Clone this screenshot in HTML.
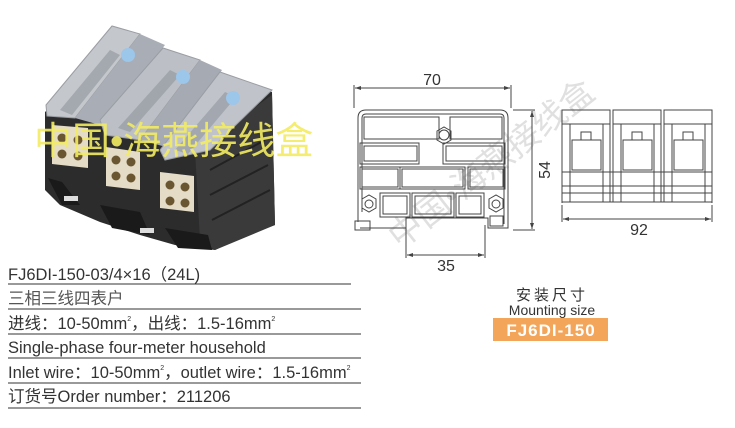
<!DOCTYPE html>
<html><head><meta charset="utf-8"><style>
html,body{margin:0;padding:0;background:#fff;}
svg{display:block}
text{font-family:"Liberation Sans","Noto Sans CJK SC",sans-serif;}
</style></head><body>
<svg width="735" height="428" viewBox="0 0 735 428" xmlns="http://www.w3.org/2000/svg">
<!-- product photo -->
<g>
 <!-- black body -->
 <polygon points="45,112 120,45 272,92 275,225 240,238 215,250 175,245 140,235 100,222 60,205 45,190" fill="#2c2c2c"/>
 <!-- right side face -->
 <polygon points="195,150 272,95 275,225 215,250 200,240" fill="#3a3a3a"/>
 <g stroke="#222" stroke-width="2" fill="none">
  <path d="M210,170 L265,140 M210,195 L268,165 M212,220 L270,190"/>
 </g>
 <!-- terminal faces -->
 <polygon points="52,125 88,128 88,168 52,164" fill="#e4dcc6"/>
 <polygon points="106,147 140,152 140,190 106,186" fill="#e4dcc6"/>
 <polygon points="160,172 194,176 194,212 160,208" fill="#e4dcc6"/>
 <g fill="#6a5630">
  <circle cx="62" cy="138" r="4.5"/><circle cx="78" cy="140" r="4.5"/><circle cx="62" cy="154" r="4.5"/><circle cx="78" cy="156" r="4.5"/>
  <circle cx="116" cy="160" r="4.5"/><circle cx="131" cy="162" r="4.5"/><circle cx="116" cy="176" r="4.5"/><circle cx="131" cy="178" r="4.5"/>
  <circle cx="170" cy="185" r="4.5"/><circle cx="185" cy="187" r="4.5"/><circle cx="170" cy="201" r="4.5"/><circle cx="185" cy="203" r="4.5"/>
 </g>
 <!-- clear covers -->
 <polygon points="46,105 112,26 140,34 75,118 47,116" fill="#c4c7cc" stroke="#9a9da3" stroke-width="1"/>
 <polygon points="75,118 140,34 165,45 100,125" fill="#a9aeb6"/>
 <polygon points="100,120 163,48 200,60 140,140 105,135" fill="#bcc0c6" stroke="#9a9da3" stroke-width="1"/>
 <polygon points="140,140 200,60 222,70 170,148" fill="#a5aab3"/>
 <polygon points="160,150 220,72 272,90 210,150 165,160" fill="#c0c4ca" stroke="#9a9da3" stroke-width="1"/>
 <polygon points="60,110 110,50 120,55 72,115" fill="#8f949c" opacity="0.6"/>
 <polygon points="118,128 170,70 180,75 130,132" fill="#8f949c" opacity="0.6"/>
 <polygon points="175,150 225,92 236,97 188,154" fill="#8f949c" opacity="0.6"/>
 <circle cx="128" cy="55" r="7" fill="#9cc6ea"/>
 <circle cx="183" cy="77" r="7" fill="#9cc6ea"/>
 <circle cx="233" cy="98" r="7" fill="#9cc6ea"/>
 <!-- bottom feet -->
 <polygon points="48,178 62,182 80,205 62,205" fill="#1a1a1a"/>
 <rect x="64" y="196" width="14" height="5" fill="#ddd"/>
 <polygon points="100,205 140,212 150,235 112,228" fill="#1a1a1a"/>
 <polygon points="165,228 208,235 212,250 178,248" fill="#1a1a1a"/>
 <rect x="140" y="228" width="14" height="5" fill="#ddd"/>
</g>
<!-- yellow watermark -->
<text x="34" y="154" font-size="38" fill="#f3ec62" opacity="0.9" font-family="Liberation Serif,'Noto Serif CJK SC',serif">中国•海燕接线盒</text>
<!-- diagonal grey watermark -->
<text x="400" y="250" font-size="34" fill="#d4d4d4" transform="rotate(-38 400 250)" font-family="Liberation Serif,'Noto Serif CJK SC',serif" opacity="0.7">中国•海燕接线盒</text>

<!-- spec text -->
<g font-size="16.5" fill="#333">
 <text x="8" y="280">FJ6DI-150-03/4×16（24L)</text>
 <text x="8" y="304" fill="#555">三相三线四表户</text>
 <text x="8" y="329">进线：10-50mm<tspan font-size="7" dy="-8">2</tspan><tspan dy="8">，出线：1.5-16mm</tspan><tspan font-size="7" dy="-8">2</tspan></text>
 <text x="8" y="353">Single-phase four-meter household</text>
 <text x="8" y="378">Inlet wire：10-50mm<tspan font-size="7" dy="-8">2</tspan><tspan dy="8">，outlet wire：1.5-16mm</tspan><tspan font-size="7" dy="-8">2</tspan></text>
 <text x="8" y="402">订货号Order number：211206</text>
</g>
<g stroke="#333" stroke-width="1">
 <line x1="8" y1="284" x2="351" y2="284"/>
 <line x1="8" y1="309" x2="361" y2="309"/>
 <line x1="8" y1="334" x2="361" y2="334"/>
 <line x1="8" y1="358" x2="361" y2="358"/>
 <line x1="8" y1="383" x2="361" y2="383"/>
 <line x1="8" y1="408" x2="361" y2="408"/>
</g>

<!-- left drawing -->
<g fill="none" stroke="#444" stroke-width="1">
 <line x1="354" y1="85" x2="354" y2="108"/><line x1="511" y1="85" x2="511" y2="108"/>
 <line x1="355" y1="88" x2="510" y2="88"/>
 <path d="M358,222 V118 Q358,110 366,110 H500 Q508,110 508,118 V228 H488 V218 H406 V228 H360"/>
 <path d="M362,212 V118 Q362,114 366,114 H500 Q504,114 504,118 V224"/>
 <rect x="360" y="143" width="59" height="21"/>
 <rect x="364" y="146" width="53" height="15"/>
 <rect x="443" y="143" width="62" height="21"/>
 <rect x="446" y="146" width="56" height="15"/>
 <rect x="360" y="167" width="40" height="22"/><rect x="362" y="169" width="36" height="18"/>
 <rect x="400" y="167" width="65" height="22"/><rect x="402" y="169" width="61" height="18"/>
 <rect x="468" y="167" width="37" height="22"/><rect x="470" y="169" width="33" height="18"/>
 <rect x="380" y="193" width="30" height="24"/><rect x="383" y="196" width="24" height="18"/>
 <rect x="412" y="193" width="42" height="24"/><rect x="415" y="196" width="36" height="18"/>
 <rect x="456" y="193" width="28" height="24"/><rect x="459" y="196" width="22" height="18"/>
 <rect x="364" y="117" width="75" height="22"/>
 <rect x="450" y="117" width="52" height="22"/>
 <polygon points="437,131 444,127 451,131 451,140 444,144 437,140"/><circle cx="444" cy="135" r="5"/>
 <polygon points="362,199 369,195 376,199 376,208 369,212 362,208"/><circle cx="369" cy="204" r="4"/>
 <polygon points="489,199 496,195 503,199 503,208 496,212 489,208"/><circle cx="496" cy="204" r="4"/>
 <rect x="490" y="216" width="13" height="10"/>
 <rect x="355" y="221" width="15" height="9"/>
 <line x1="513" y1="110" x2="535" y2="110"/><line x1="513" y1="230" x2="535" y2="230"/>
 <line x1="532" y1="111" x2="532" y2="229"/>
 <line x1="406" y1="228" x2="406" y2="258"/><line x1="485" y1="225" x2="485" y2="258"/>
 <line x1="407" y1="255" x2="484" y2="255"/>
</g>
<g fill="#444">
 <polygon points="355,88 361,86 361,90"/><polygon points="510,88 504,86 504,90"/>
 <polygon points="532,111 530,117 534,117"/><polygon points="532,229 530,223 534,223"/>
 <polygon points="407,255 413,253 413,257"/><polygon points="484,255 478,253 478,257"/>
 <polygon points="563,219 569,217 569,221"/><polygon points="711,219 705,217 705,221"/>
</g>
<g font-size="16" fill="#333" text-anchor="middle">
 <text x="432" y="85">70</text>
 <text x="446" y="271">35</text>
 <text x="639" y="235">92</text>
 <text x="0" y="0" transform="translate(550,170) rotate(-90)">54</text>
</g>

<!-- right drawing -->
<g fill="none" stroke="#444" stroke-width="1">
 <rect x="562" y="110" width="48" height="14"/><rect x="613" y="110" width="48" height="14"/><rect x="664" y="110" width="48" height="14"/>
 <line x1="562" y1="110" x2="562" y2="203"/><line x1="712" y1="110" x2="712" y2="203"/>
 <line x1="562" y1="202" x2="712" y2="202"/>
 <line x1="562" y1="193" x2="712" y2="193"/>
 <line x1="562" y1="186" x2="712" y2="186"/>
 <line x1="562" y1="172" x2="712" y2="172"/>
 <line x1="610" y1="124" x2="610" y2="202"/><line x1="613" y1="124" x2="613" y2="202"/>
 <line x1="661" y1="124" x2="661" y2="202"/><line x1="664" y1="124" x2="664" y2="202"/>
 <line x1="570" y1="124" x2="570" y2="202"/><line x1="603" y1="124" x2="603" y2="202"/>
 <line x1="621" y1="124" x2="621" y2="202"/><line x1="654" y1="124" x2="654" y2="202"/>
 <line x1="672" y1="124" x2="672" y2="202"/><line x1="705" y1="124" x2="705" y2="202"/>
 <rect x="572" y="140" width="29" height="30"/><rect x="623" y="140" width="29" height="30"/><rect x="674" y="140" width="29" height="30"/>
 <rect x="581" y="132" width="10" height="8"/><rect x="632" y="132" width="10" height="8"/><rect x="683" y="132" width="10" height="8"/>
 <line x1="562" y1="205" x2="562" y2="222"/><line x1="712" y1="205" x2="712" y2="222"/>
 <line x1="563" y1="219" x2="711" y2="219"/>
</g>

<!-- mounting label -->
<g text-anchor="middle" fill="#333">
 <text x="552" y="300" font-size="15" letter-spacing="3">安装尺寸</text>
 <text x="552" y="315" font-size="14">Mounting size</text>
</g>
<rect x="493" y="318" width="115" height="23" fill="#f3a55a"/>
<text x="551" y="336" font-size="17" font-weight="bold" fill="#fff" text-anchor="middle" letter-spacing="1">FJ6DI-150</text>
</svg>
</body></html>
